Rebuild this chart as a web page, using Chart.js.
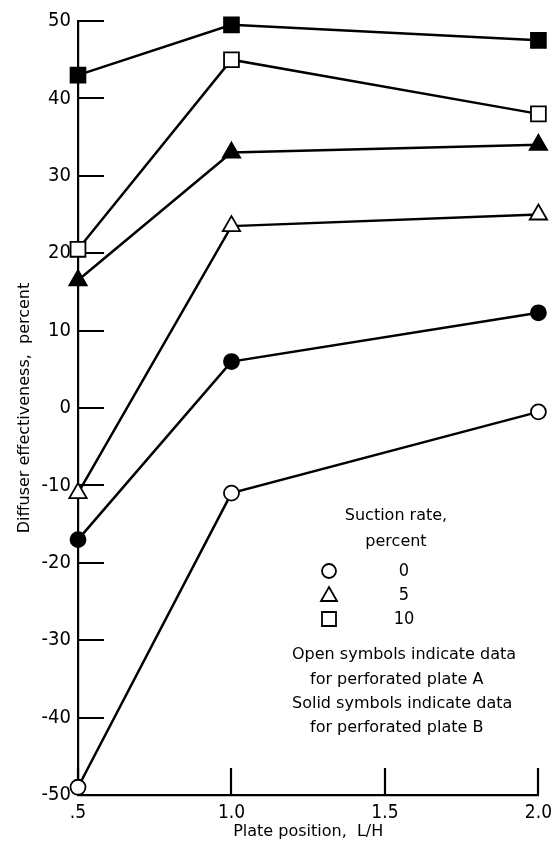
<!DOCTYPE html>
<html>
<head>
<meta charset="utf-8">
<script src="https://cdn.jsdelivr.net/npm/chart.js@4"></script>
<style>
  html, body { margin: 0; padding: 0; background: #fff; }
  canvas { display: block; }
</style>
</head>
<body>
<canvas id="chart" width="559" height="847"></canvas>
<script>
// Data
const platePosition = [0.5, 1.0, 2.0];
const plateA_suction0 = [-49, -11, -0.5];
const plateA_suction5 = [-11, 23.5, 25];
const plateA_suction10 = [20.5, 45, 38];
const plateB_suction0 = [-17, 6, 12.3];
const plateB_suction5 = [16.5, 33, 34];
const plateB_suction10 = [43, 49.5, 47.5];

const yTicks = [-50, -40, -30, -20, -10, 0, 10, 20, 30, 40, 50];
const xTicks = [0.5, 1.0, 1.5, 2.0];

const legendRows = [
    { style: 'circle', label: '0' },
    { style: 'triangle', label: '5' },
    { style: 'rect', label: '10' }
];
const noteLines = [
    'Open symbols indicate data',
    'for perforated plate A',
    'Solid symbols indicate data',
    'for perforated plate B'
];

const TEXT_FONT = "'DejaVu Sans', sans-serif";
const NUM_FONT = "'Liberation Sans Narrow', 'DejaVu Sans Condensed', sans-serif";

function toPoints(ys) {
    return platePosition.map((x, i) => ({ x: x, y: ys[i] }));
}

function makeSeries(label, ys, style, solid) {
    let radius = 7.5;
    if (style === 'rect') radius = 10.5;
    if (style === 'triangle') radius = 10;
    return {
        label: label,
        data: toPoints(ys),
        clip: false,
        borderColor: '#000',
        borderWidth: 2.5,
        pointStyle: style,
        pointRadius: radius,
        pointBorderWidth: 1.8,
        pointBorderColor: '#000',
        pointBackgroundColor: solid ? '#000' : '#fff',
        fill: false,
        tension: 0
    };
}

// inward tick marks, axis titles and the legend box
const decorations = {
    id: 'decorations',
    beforeDatasetsDraw(chart) {
        const ctx = chart.ctx;
        const xs = chart.scales.x;
        const ys = chart.scales.y;
        const area = chart.chartArea;
        ctx.save();
        ctx.strokeStyle = '#000';
        ctx.lineWidth = 2.2;
        ctx.beginPath();
        yTicks.forEach(v => {
            const py = Math.round(ys.getPixelForValue(v));
            ctx.moveTo(area.left, py);
            ctx.lineTo(area.left + 26, py);
        });
        xTicks.forEach(v => {
            const px = Math.round(xs.getPixelForValue(v));
            ctx.moveTo(px, area.bottom);
            ctx.lineTo(px, area.bottom - 27);
        });
        ctx.stroke();
        ctx.restore();
    },
    afterDraw(chart) {
        const ctx = chart.ctx;
        const area = chart.chartArea;
        ctx.save();
        ctx.fillStyle = '#000';
        ctx.font = '16px ' + TEXT_FONT;
        ctx.textBaseline = 'middle';

        // x title
        ctx.textAlign = 'center';
        ctx.fillText('Plate position,  L/H', (area.left + area.right) / 2, 832);

        // y title
        ctx.save();
        ctx.translate(25, (area.top + area.bottom) / 2);
        ctx.rotate(-Math.PI / 2);
        ctx.fillText('Diffuser effectiveness,  percent', 0, 0);
        ctx.restore();

        // legend
        ctx.textAlign = 'center';
        ctx.fillText('Suction rate,', 396, 516);
        ctx.fillText('percent', 396, 542);
        const rowY = [571, 595, 619];
        ctx.font = '18px ' + NUM_FONT;
        legendRows.forEach((row, i) => {
            const y = rowY[i];
            ctx.lineWidth = 1.8;
            ctx.strokeStyle = '#000';
            ctx.beginPath();
            if (row.style === 'circle') {
                ctx.arc(329, y, 7, 0, Math.PI * 2);
            } else if (row.style === 'triangle') {
                ctx.moveTo(329, y - 8);
                ctx.lineTo(337, y + 6);
                ctx.lineTo(321, y + 6);
                ctx.closePath();
            } else {
                ctx.rect(322, y - 7, 14, 14);
            }
            ctx.stroke();
            ctx.fillText(row.label, 404, y);
        });
        ctx.font = '16px ' + TEXT_FONT;
        ctx.textAlign = 'left';
        const noteY = [655, 680, 704, 728];
        noteLines.forEach((t, i) => {
            ctx.fillText(t, i % 2 === 0 ? 292 : 310, noteY[i]);
        });
        ctx.restore();
    }
};

new Chart(document.getElementById('chart'), {
    type: 'line',
    data: {
        datasets: [
            makeSeries('Plate A, 0', plateA_suction0, 'circle', false),
            makeSeries('Plate B, 0', plateB_suction0, 'circle', true),
            makeSeries('Plate A, 5', plateA_suction5, 'triangle', false),
            makeSeries('Plate B, 5', plateB_suction5, 'triangle', true),
            makeSeries('Plate A, 10', plateA_suction10, 'rect', false),
            makeSeries('Plate B, 10', plateB_suction10, 'rect', true)
        ]
    },
    options: {
        responsive: false,
        animation: false,
        events: [],
        layout: { padding: { top: 21, right: 19, left: 0, bottom: 0 } },
        plugins: {
            legend: { display: false },
            tooltip: { enabled: false }
        },
        scales: {
            x: {
                type: 'linear',
                min: 0.5,
                max: 2.0,
                afterBuildTicks: scale => { scale.ticks = xTicks.map(v => ({ value: v })); },
                afterFit: scale => { scale.height = 52; },
                grid: { display: false, drawTicks: false },
                border: { display: true, color: '#000', width: 2.2 },
                ticks: {
                    color: '#000',
                    padding: 7,
                    maxRotation: 0,
                    font: { family: NUM_FONT, size: 19 },
                    callback: v => (v === 0.5 ? '.5' : v.toFixed(1))
                }
            },
            y: {
                type: 'linear',
                min: -50,
                max: 50,
                afterBuildTicks: scale => { scale.ticks = yTicks.map(v => ({ value: v })); },
                afterFit: scale => { scale.width = 78; },
                grid: { display: false, drawTicks: false },
                border: { display: true, color: '#000', width: 2.2 },
                ticks: {
                    color: '#000',
                    padding: 7,
                    font: { family: NUM_FONT, size: 20 },
                    callback: v => String(v)
                }
            }
        }
    },
    plugins: [decorations]
});
</script>
</body>
</html>
